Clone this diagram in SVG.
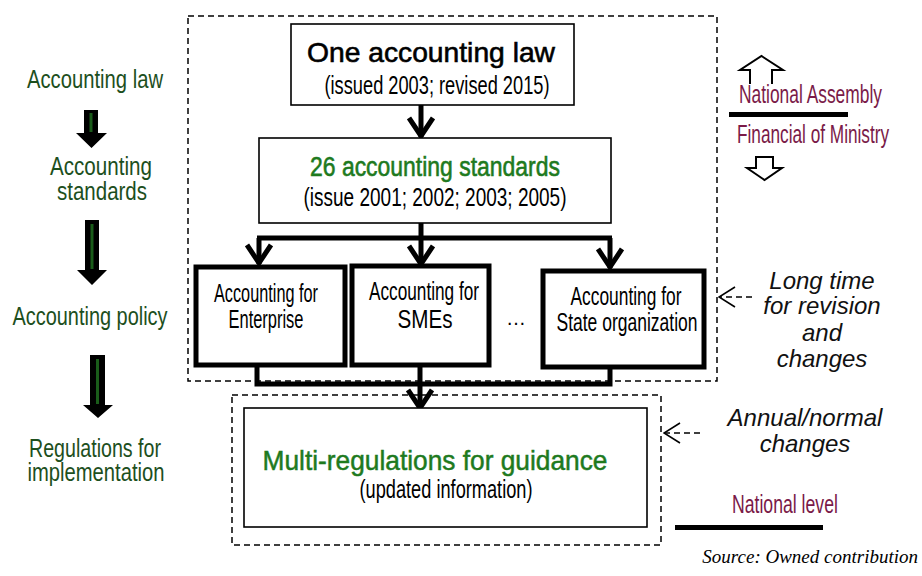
<svg xmlns="http://www.w3.org/2000/svg" width="922" height="576" viewBox="0 0 922 576">
  <style>
    .lvl { font-family: "Liberation Sans", Arial, sans-serif; font-size: 25px; fill: #1d4f1d; text-anchor: middle; }
    .box { fill: #fff; stroke: #000; stroke-width: 1.6; }
    .thick { fill: #fff; stroke: #000; stroke-width: 5; }
    .dash { fill: none; stroke: #000; stroke-width: 1.5; stroke-dasharray: 6 4; }
    .wire { fill: none; stroke: #000; stroke-width: 5; }
    .t-black { font-family: "Liberation Sans", Arial, sans-serif; fill: #000; text-anchor: middle; }
    .t-green { font-family: "Liberation Sans", Arial, sans-serif; fill: #1e7a1e; text-anchor: middle; }
    .t-maroon { font-family: "Liberation Sans", Arial, sans-serif; fill: #7a1a48; font-size: 25px; }
    .note { font-family: "Liberation Sans", Arial, sans-serif; font-style: italic; font-size: 24px; fill: #111; text-anchor: middle; }
    .block { fill: #000; }
    .stripe { stroke: #1a5c1a; stroke-width: 3; }
    .hollow { fill: #fff; stroke: #000; stroke-width: 2; }
    .bar { fill: #000; }
  </style>
  <defs>
    <marker id="vhead" markerUnits="userSpaceOnUse" viewBox="0 0 26 28" refX="22" refY="14" markerWidth="26" markerHeight="28" orient="auto">
      <path d="M3,2 L21,14 L3,26" fill="none" stroke="#000" stroke-width="5" stroke-linejoin="miter"/>
    </marker>
    <marker id="openhead" markerUnits="userSpaceOnUse" viewBox="0 0 20 24" refX="19" refY="12" markerWidth="20" markerHeight="24" orient="auto">
      <path d="M3,2 L19,12 L3,22" fill="none" stroke="#000" stroke-width="1.6"/>
    </marker>
  </defs>

  <!-- left column: levels of the regulatory framework -->
  <g id="levels">
    <text class="lvl" x="95" y="88" textLength="136" lengthAdjust="spacingAndGlyphs">Accounting law</text>
    <path class="block" d="M84,110 H98 V133 H107 L91.5,148 L76,133 H84 Z"/>
    <line class="stripe" x1="91" y1="113" x2="91" y2="132"/>
    <text class="lvl" x="101" y="175" textLength="102" lengthAdjust="spacingAndGlyphs">Accounting</text>
    <text class="lvl" x="102" y="200" textLength="90" lengthAdjust="spacingAndGlyphs">standards</text>
    <path class="block" d="M85,220 H99 V270 H107 L92,285 L77,270 H85 Z"/>
    <line class="stripe" x1="92" y1="224" x2="92" y2="269"/>
    <text class="lvl" x="90" y="325" textLength="155" lengthAdjust="spacingAndGlyphs">Accounting policy</text>
    <path class="block" d="M90,355 H105 V405 H113 L98,418 L83,405 H90 Z"/>
    <line class="stripe" x1="97.5" y1="359" x2="97.5" y2="404"/>
    <text class="lvl" x="95" y="457" textLength="132" lengthAdjust="spacingAndGlyphs">Regulations for</text>
    <text class="lvl" x="96" y="481" textLength="137" lengthAdjust="spacingAndGlyphs">implementation</text>
  </g>

  <!-- grouping frames -->
  <g id="frames">
    <rect class="dash" x="188" y="16" width="529" height="365"/>
    <rect class="dash" x="232" y="395" width="429" height="150"/>
  </g>

  <!-- connectors -->
  <g id="connectors">
    <line class="wire" x1="421" y1="105" x2="421" y2="137" marker-end="url(#vhead)"/>
    <polyline class="wire" points="421,223 421,238"/>
    <line class="wire" x1="257" y1="238" x2="612" y2="238"/>
    <line class="wire" x1="259" y1="238" x2="259" y2="264" marker-end="url(#vhead)"/>
    <line class="wire" x1="421" y1="238" x2="421" y2="265" marker-end="url(#vhead)"/>
    <line class="wire" x1="610" y1="238" x2="610" y2="268" marker-end="url(#vhead)"/>
    <polyline class="wire" points="257,360 257,384 610,384 610,362"/>
    <line class="wire" x1="420" y1="360" x2="420" y2="409" marker-end="url(#vhead)"/>
    <line class="dash" x1="752" y1="297" x2="719" y2="297" marker-end="url(#openhead)"/>
    <line class="dash" x1="700" y1="433" x2="664" y2="433" marker-end="url(#openhead)"/>
  </g>

  <g id="law">
    <rect class="box" x="291" y="24" width="283" height="81"/>
    <text class="t-black" x="431" y="62" font-size="28" textLength="248" lengthAdjust="spacingAndGlyphs" style="stroke:#000;stroke-width:0.6">One accounting law</text>
    <text class="t-black" x="437" y="94" font-size="26" textLength="225" lengthAdjust="spacingAndGlyphs">(issued 2003; revised 2015)</text>
  </g>

  <g id="standards">
    <rect class="box" x="259" y="138" width="352" height="85"/>
    <text class="t-green" x="435" y="176" font-size="27" textLength="250" lengthAdjust="spacingAndGlyphs" style="stroke:#1e7a1e;stroke-width:0.6">26 accounting standards</text>
    <text class="t-black" x="435" y="206" font-size="26" textLength="263" lengthAdjust="spacingAndGlyphs">(issue 2001; 2002; 2003; 2005)</text>
  </g>

  <g id="enterprise">
    <rect class="thick" x="196" y="267" width="149" height="98"/>
    <text class="t-black" x="266" y="302" font-size="25" textLength="104" lengthAdjust="spacingAndGlyphs">Accounting for</text>
    <text class="t-black" x="266" y="328" font-size="25" textLength="75" lengthAdjust="spacingAndGlyphs">Enterprise</text>
  </g>

  <g id="smes">
    <rect class="thick" x="352" y="266" width="137" height="99"/>
    <text class="t-black" x="424" y="300" font-size="25" textLength="110" lengthAdjust="spacingAndGlyphs">Accounting for</text>
    <text class="t-black" x="425" y="328" font-size="25" textLength="55" lengthAdjust="spacingAndGlyphs">SMEs</text>
  </g>

  <g id="ellipsis">
    <text class="t-black" x="516" y="325" font-size="20">…</text>
  </g>

  <g id="state">
    <rect class="thick" x="543" y="271" width="161" height="96"/>
    <text class="t-black" x="626" y="305" font-size="25" textLength="111" lengthAdjust="spacingAndGlyphs">Accounting for</text>
    <text class="t-black" x="627" y="331" font-size="25" textLength="141" lengthAdjust="spacingAndGlyphs">State organization</text>
  </g>

  <g id="guidance">
    <rect class="box" x="244" y="408" width="403" height="119"/>
    <text class="t-green" x="435" y="470" font-size="28" textLength="345" lengthAdjust="spacingAndGlyphs" style="stroke:#1e7a1e;stroke-width:0.5">Multi-regulations for guidance</text>
    <text class="t-black" x="446" y="498" font-size="25" textLength="173" lengthAdjust="spacingAndGlyphs">(updated information)</text>
  </g>

  <!-- right column: authority levels and notes -->
  <g id="authority">
    <path class="hollow" d="M750,84 V70 H740 L761.5,56 L783,70 H772 V84"/>
    <text class="t-maroon" transform="translate(739,103) scale(0.696,1)">National Assembly</text>
    <rect class="bar" x="729" y="112" width="119" height="5"/>
    <text class="t-maroon" transform="translate(737,143) scale(0.689,1)">Financial of Ministry</text>
    <path class="hollow" d="M756,157 H773 V168 H782 L764.5,180 L747,168 H756 Z"/>
  </g>

  <g id="note-long">
    <text class="note" x="822" y="289">Long time</text>
    <text class="note" x="822" y="314">for revision</text>
    <text class="note" x="822" y="341">and</text>
    <text class="note" x="822" y="367">changes</text>
  </g>

  <g id="note-annual">
    <text class="note" x="805" y="426">Annual/normal</text>
    <text class="note" x="805" y="452">changes</text>
  </g>

  <g id="national-level">
    <text class="t-maroon" transform="translate(732,513) scale(0.706,1)">National level</text>
    <rect class="bar" x="675" y="525" width="148" height="5"/>
  </g>

  <text x="918" y="563" font-family="'Liberation Serif', 'Times New Roman', serif" font-style="italic" font-size="19" text-anchor="end">Source: Owned contribution</text>
</svg>
